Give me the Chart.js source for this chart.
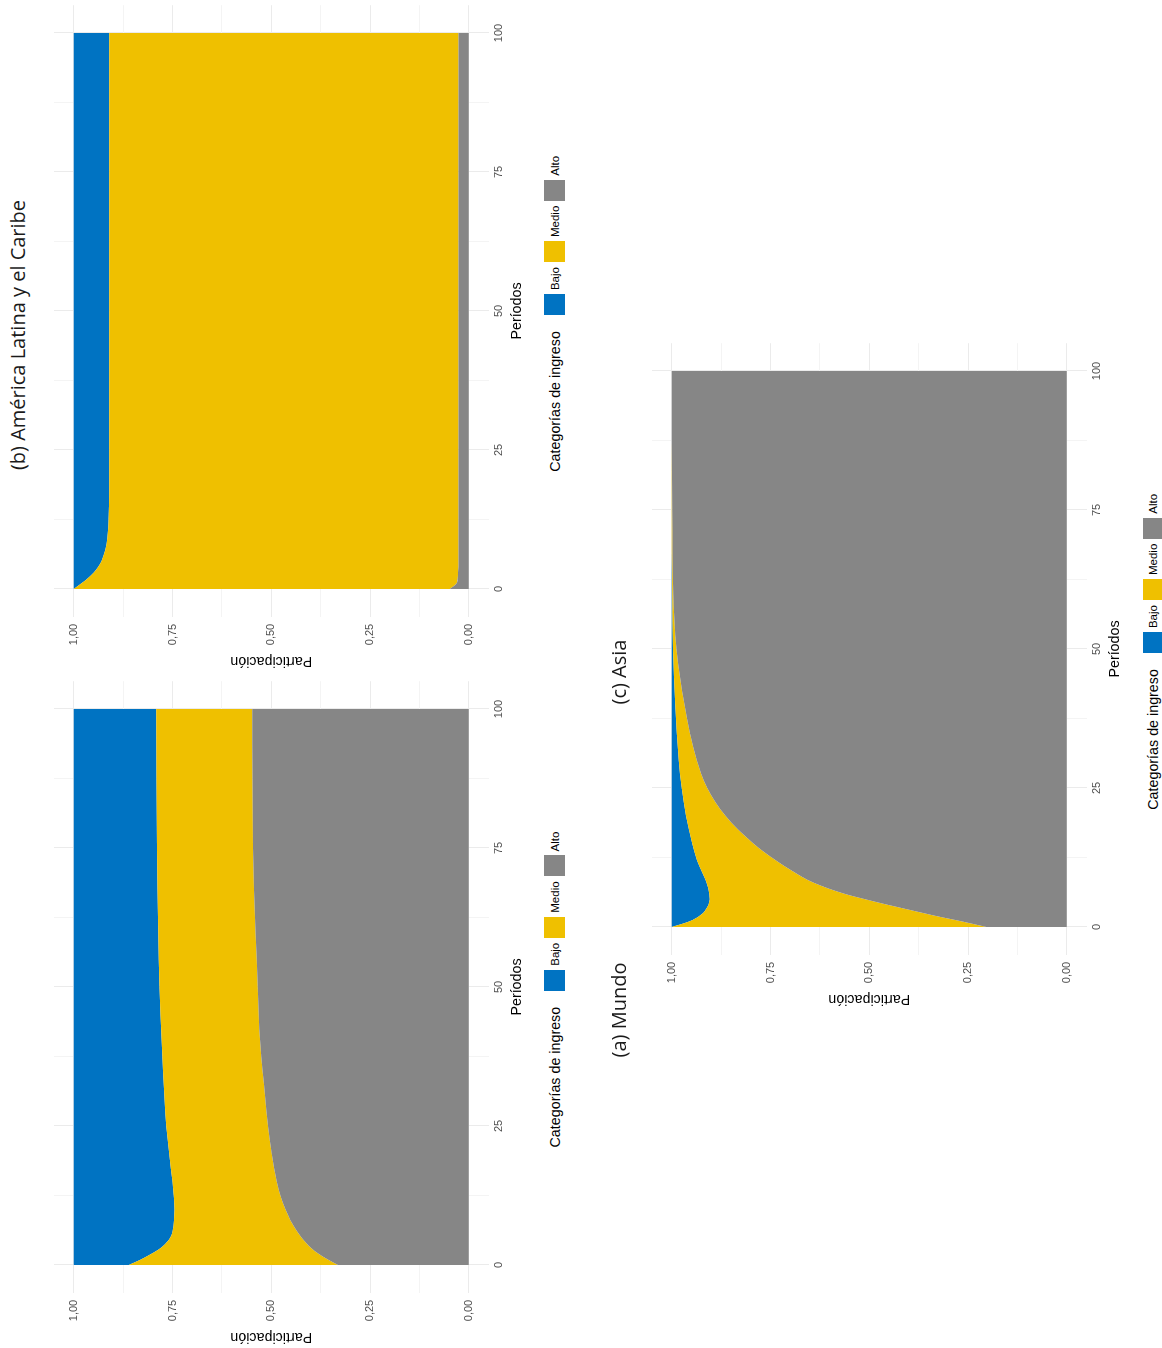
<!DOCTYPE html>
<html lang="es">
<head>
<meta charset="utf-8">
<title>Participación por categorías de ingreso</title>
<script src="https://cdn.jsdelivr.net/npm/chart.js@4.4.1/dist/chart.umd.min.js"></script>
<style>
  html, body { margin: 0; padding: 0; background: #fff; overflow: hidden; }
  body { width: 1162px; height: 1348px; position: relative; }
  /* the figure is laid out landscape, then turned a quarter turn to the left */
  #figure {
    position: absolute; left: 0; top: 0;
    width: 1348px; height: 1162px;
    transform-origin: 0 0;
    transform: translateY(1348px) rotate(-90deg);
    font-family: 'Liberation Sans', Arial, sans-serif;
  }
  .panel { position: absolute; }
  .caption {
    position: absolute; width: 500px; height: 28px; line-height: 28px;
    text-align: center; white-space: nowrap;
    font-family: 'Open Sans', sans-serif; font-size: 20px; color: #1a1a1a;
  }
  .legend {
    position: absolute; height: 21px;
    display: flex; justify-content: center; align-items: center; white-space: nowrap;
  }
  .legend .title { font-size: 14.3px; margin-right: 16px; color: #000; }
  .legend .key { width: 21px; height: 21px; }
  .legend .lab { font-size: 11.5px; margin: 0 5px 0 4px; color: #000; }
</style>
</head>
<body>
<div id="figure"></div>

<script>
// data
const periodos = [0, 1, 2, 3, 4, 5, 6, 8, 10, 12, 15, 20, 25, 30, 40, 50, 60, 75, 100];
const categorias = ['Bajo', 'Medio', 'Alto'];
const colores = ['#0073C2', '#EFC000', '#868686'];
const ticksPeriodo = [0, 25, 50, 75, 100];
const ticksParticipacion = [0, 0.25, 0.5, 0.75, 1];

// (a) Mundo
const mundoBajo  = [.139, .170, .196, .219, .234, .245, .250, .254, .255, .254, .250, .242, .234, .230, .223, .217, .214, .211, .209];
const mundoMedio = [.530, .473, .424, .383, .354, .331, .316, .295, .281, .271, .264, .259, .258, .255, .249, .249, .246, .243, .243];
const mundoAlto  = [.331, .357, .380, .398, .412, .424, .434, .451, .464, .475, .486, .499, .508, .515, .528, .534, .540, .546, .548];

// (b) América Latina y el Caribe
const alcBajo  = [0, .019, .037, .051, .062, .070, .075, .083, .086, .088, .089, .090, .090, .090, .090, .090, .090, .090, .090];
const alcMedio = [.952, .950, .935, .922, .912, .904, .899, .891, .888, .886, .885, .884, .884, .884, .884, .884, .884, .884, .884];
const alcAlto  = [.048, .031, .028, .027, .026, .026, .026, .026, .026, .026, .026, .026, .026, .026, .026, .026, .026, .026, .026];

// (c) Asia
const asiaBajo  = [0, .044, .070, .085, .093, .096, .095, .088, .076, .064, .052, .036, .025, .018, .009, .003, .001, 0, 0];
const asiaMedio = [.797, .691, .598, .522, .453, .393, .341, .270, .231, .199, .155, .100, .065, .045, .023, .009, .003, .001, 0];
const asiaAlto  = [.203, .265, .332, .393, .454, .511, .564, .642, .693, .737, .793, .864, .910, .937, .968, .988, .996, .999, 1];

// layout (landscape frame, px)
const AXIS_W = 55.2, AXIS_H = 40, PAD_TOP = 20;
const AREA_W = 611.6, AREA_H = 434.5;
const CANVAS_W = 672, CANVAS_H = 505;

Chart.defaults.font.family = "'Liberation Sans', Arial, sans-serif";

// major ticks plus the minor lines half way between them
const withMinor = ticks => {
    const out = [];
    ticks.forEach((v, i) => {
        if (i > 0) out.push((ticks[i - 1] + v) / 2);
        out.push(v);
    });
    return out;
};
const gridPeriodo = withMinor(ticksPeriodo);
const gridParticipacion = withMinor(ticksParticipacion);
const isMajor = (list, v) => list.some(t => Math.abs(t - v) < 1e-9);

const figure = document.getElementById('figure');

function addDiv(cls, css, html) {
    const d = document.createElement('div');
    d.className = cls;
    Object.assign(d.style, css);
    if (html) d.innerHTML = html;
    figure.appendChild(d);
    return d;
}

function makePanel(areaLeft, areaTop, series) {
    const wrap = addDiv('panel', {
        left: (areaLeft - AXIS_W) + 'px', top: (areaTop - PAD_TOP) + 'px',
        width: CANVAS_W + 'px', height: CANVAS_H + 'px'
    });
    const canvas = document.createElement('canvas');
    canvas.width = CANVAS_W;
    canvas.height = CANVAS_H;
    wrap.appendChild(canvas);

    // stack from the bottom: Alto, Medio, Bajo
    const order = [2, 1, 0];
    const datasets = order.map((k, i) => ({
        label: categorias[k],
        data: periodos.map((t, j) => ({ x: t, y: series[k][j] })),
        backgroundColor: colores[k],
        borderColor: colores[k],
        borderWidth: 0,
        pointRadius: 0,
        fill: i === 0 ? 'origin' : '-1',
        tension: 0.4,
        cubicInterpolationMode: 'monotone'
    }));

    new Chart(canvas, {
        type: 'line',
        data: { datasets },
        options: {
            responsive: false,
            animation: false,
            devicePixelRatio: 1,
            layout: {
                padding: {
                    left: 0, top: PAD_TOP,
                    right: CANVAS_W - AXIS_W - AREA_W,
                    bottom: CANVAS_H - PAD_TOP - AREA_H - AXIS_H
                }
            },
            plugins: { legend: { display: false }, tooltip: { enabled: false } },
            scales: {
                x: {
                    type: 'linear', bounds: 'data', min: -5, max: 105,
                    afterBuildTicks: s => { s.ticks = gridPeriodo.map(v => ({ value: v })); },
                    afterFit: s => { s.height = AXIS_H; },
                    border: { display: false },
                    grid: {
                        drawTicks: false,
                        color: c => isMajor(ticksPeriodo, c.tick.value) ? '#EBEBEB' : '#F4F4F4',
                        lineWidth: 1
                    },
                    ticks: {
                        autoSkip: false, maxRotation: 0, padding: 4,
                        color: '#4D4D4D', font: { size: 11 },
                        callback: v => isMajor(ticksPeriodo, v) ? String(v) : ''
                    },
                    title: {
                        display: true, text: 'Períodos', color: '#000',
                        font: { size: 14.3 }, padding: { top: 0, bottom: 2.4 }
                    }
                },
                y: {
                    type: 'linear', stacked: true, bounds: 'data', min: -0.05, max: 1.05,
                    afterBuildTicks: s => { s.ticks = gridParticipacion.map(v => ({ value: v })); },
                    afterFit: s => { s.width = AXIS_W; },
                    border: { display: false },
                    grid: {
                        drawTicks: false,
                        color: c => isMajor(ticksParticipacion, c.tick.value) ? '#EBEBEB' : '#F4F4F4',
                        lineWidth: 1
                    },
                    ticks: {
                        autoSkip: false, padding: 7,
                        color: '#4D4D4D', font: { size: 11 },
                        callback: v => isMajor(ticksParticipacion, v) ? v.toFixed(2).replace('.', ',') : ''
                    },
                    title: {
                        display: true, text: 'Participación', color: '#000',
                        font: { size: 14.3 }, padding: { top: 2.5, bottom: 0 }
                    }
                }
            }
        }
    });

    // legend below the panel, as in the source figure
    let html = '<span class="title">Categorías de ingreso</span>';
    categorias.forEach((c, k) => {
        html += '<span class="key" style="background:' + colores[k] + '"></span><span class="lab">' + c + '</span>';
    });
    addDiv('legend', {
        left: areaLeft + 'px', width: AREA_W + 'px',
        top: (areaTop + AREA_H + 56) + 'px'
    }, html);
}

function addCaption(text, centerX, top) {
    addDiv('caption', { left: (centerX - 250) + 'px', top: top + 'px' }, text);
}

makePanel(55.2, 53.55, [mundoBajo, mundoMedio, mundoAlto]);
makePanel(730.9, 53.55, [alcBajo, alcMedio, alcAlto]);
makePanel(392.9, 652.25, [asiaBajo, asiaMedio, asiaAlto]);

addCaption('(a) Mundo', 338, 605);
addCaption('(b) América Latina y el Caribe', 1013, 4);
addCaption('(c) Asia', 676, 605);
</script>
</body>
</html>
